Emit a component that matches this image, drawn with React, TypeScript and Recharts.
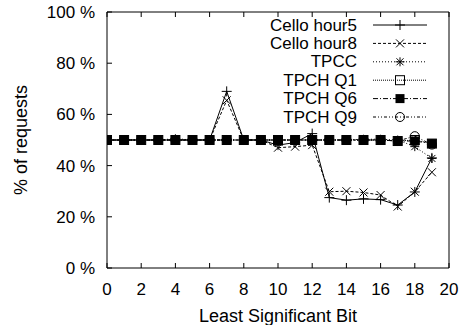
import { LineChart, Line, XAxis, YAxis } from 'recharts';

// least significant bit index
const BITS = [0, 1, 2, 3, 4, 5, 6, 7, 8, 9, 10, 11, 12, 13, 14, 15, 16, 17, 18, 19];

// % of requests per trace
const HOUR5 = [50, 50, 50, 50, 50, 50, 50, 69, 50, 50, 48, 49, 52.5, 27.5, 26.5, 27, 26.7, 24.6, 29.7, 43];
const HOUR8 = [50, 50, 50, 50, 50, 50, 50, 65.5, 50, 50, 47, 47.4, 48, 29.8, 30, 29.5, 28.5, 24, 29.8, 37.4];
const TPCC = [50, 50, 50, 50, 50.5, 50, 50, 50, 50, 50, 50, 50, 50, 50, 50, 50.3, 50.3, 50, 47.4, 42.8];
const TPCH_Q1 = [50, 50, 50, 50, 50, 50, 50, 50, 50, 50, 50, 50, 50, 50, 50, 50, 50, 49.6, 50, 48.6];
const TPCH_Q6 = [50, 50, 50, 50, 50, 50, 50, 50, 50, 50, 50, 50, 50, 50, 50, 50, 50, 49.6, 49.6, 48.6];
const TPCH_Q9 = [50, 50, 50, 50, 50, 50, 50, 50, 50, 50, 50, 50, 50, 50, 50, 50, 50, 49.6, 51.5, 48.2];

const X_TICKS = [0, 2, 4, 6, 8, 10, 12, 14, 16, 18, 20];
const Y_TICKS = [0, 20, 40, 60, 80, 100];

const FONT = '"Liberation Sans", Arial, sans-serif';
const FS = 17;

type MarkerKind = 'plus' | 'cross' | 'star' | 'square' | 'filledSquare' | 'circle';

const SERIES: { key: string; name: string; values: number[]; dash?: string; marker: MarkerKind }[] = [
  { key: 'hour5', name: 'Cello hour5', values: HOUR5, marker: 'plus' },
  { key: 'hour8', name: 'Cello hour8', values: HOUR8, dash: '3 2', marker: 'cross' },
  { key: 'tpcc', name: 'TPCC', values: TPCC, dash: '1 2', marker: 'star' },
  { key: 'q1', name: 'TPCH Q1', values: TPCH_Q1, dash: '1 1', marker: 'square' },
  { key: 'q6', name: 'TPCH Q6', values: TPCH_Q6, dash: '5 2 1 2', marker: 'filledSquare' },
  { key: 'q9', name: 'TPCH Q9', values: TPCH_Q9, dash: '3 2 1 2 1 2', marker: 'circle' },
];

const rows = BITS.map((bit, i) => {
  const row: Record<string, number> = { bit };
  SERIES.forEach((s) => {
    row[s.key] = s.values[i];
  });
  return row;
});

// gnuplot-ish point types, open shapes are not filled
const Marker = ({ kind, cx, cy }: { kind: MarkerKind; cx: number; cy: number }) => {
  const s = 4.5;
  const stroke = { stroke: '#000', strokeWidth: 1, fill: 'none' };
  switch (kind) {
    case 'plus':
      return <path d={`M${cx - 5},${cy}H${cx + 5}M${cx},${cy - 5}V${cy + 5}`} {...stroke} />;
    case 'cross':
      return (
        <path d={`M${cx - 4},${cy - 4}L${cx + 4},${cy + 4}M${cx - 4},${cy + 4}L${cx + 4},${cy - 4}`} {...stroke} />
      );
    case 'star':
      return (
        <path
          d={`M${cx - 4.5},${cy}H${cx + 4.5}M${cx},${cy - 4.5}V${cy + 4.5}M${cx - 3.5},${cy - 3.5}L${cx + 3.5},${cy + 3.5}M${cx - 3.5},${cy + 3.5}L${cx + 3.5},${cy - 3.5}`}
          {...stroke}
        />
      );
    case 'square':
      return <rect x={cx - s} y={cy - s} width={2 * s} height={2 * s} {...stroke} />;
    case 'filledSquare':
      return <rect x={cx - s} y={cy - s} width={2 * s} height={2 * s} fill="#000" />;
    default:
      return <circle cx={cx} cy={cy} r={s} {...stroke} />;
  }
};

const makeDot = (kind: MarkerKind) => (props: any) => (
  <g key={`${kind}-${props.index}`}>
    <Marker kind={kind} cx={props.cx} cy={props.cy} />
  </g>
);

const pctTick = (v: number) => `${v} %`;
const blank = () => '';

export default function App() {
  return (
    <div style={{ position: 'absolute', left: 0, top: 0, width: 462, height: 325, fontFamily: FONT, background: '#fff' }}>
      <LineChart width={462} height={325} data={rows} margin={{ top: 11, right: 0, bottom: 0, left: 0 }}>
        <XAxis
          dataKey="bit"
          type="number"
          domain={[0, 20]}
          ticks={X_TICKS}
          allowDataOverflow
          height={57}
          stroke="#000"
          tickSize={-5}
          tickMargin={20}
          tick={{ fontSize: FS, fill: '#000' }}
        />
        <XAxis
          xAxisId="top"
          orientation="top"
          dataKey="bit"
          type="number"
          domain={[0, 20]}
          ticks={X_TICKS}
          allowDataOverflow
          height={1}
          stroke="#000"
          tickSize={-5}
          tickFormatter={blank}
        />
        <YAxis
          type="number"
          domain={[0, 100]}
          ticks={Y_TICKS}
          width={107}
          stroke="#000"
          tickSize={-5}
          tickMargin={17}
          tickFormatter={pctTick}
          tick={{ fontSize: FS, fill: '#000' }}
        />
        <YAxis
          yAxisId="right"
          orientation="right"
          type="number"
          domain={[0, 100]}
          ticks={Y_TICKS}
          width={13}
          stroke="#000"
          tickSize={-5}
          tickFormatter={blank}
        />
        {SERIES.map((s) => (
          <Line
            key={s.key}
            dataKey={s.key}
            name={s.name}
            stroke="#000"
            strokeWidth={1}
            strokeDasharray={s.dash}
            dot={makeDot(s.marker)}
            activeDot={false}
            isAnimationActive={false}
          />
        ))}
      </LineChart>
      <svg
        width={462}
        height={325}
        style={{ position: 'absolute', left: 0, top: 0, pointerEvents: 'none' }}
      >
        <text
          transform="translate(21,140) rotate(-90)"
          textAnchor="middle"
          dominantBaseline="central"
          fontSize={18}
          fill="#000"
        >
          % of requests
        </text>
        <text x={278} y={322} textAnchor="middle" fontSize={18} fill="#000">
          Least Significant Bit
        </text>
        {SERIES.map((s, i) => {
          const y = 25 + i * 18.4;
          return (
            <g key={s.key}>
              <text x={357} y={y} textAnchor="end" dominantBaseline="central" fontSize={FS} fill="#000">
                {s.name}
              </text>
              <line x1={373} x2={427} y1={y} y2={y} stroke="#000" strokeWidth={1} strokeDasharray={s.dash} />
              <Marker kind={s.marker} cx={400} cy={y} />
            </g>
          );
        })}
      </svg>
    </div>
  );
}
